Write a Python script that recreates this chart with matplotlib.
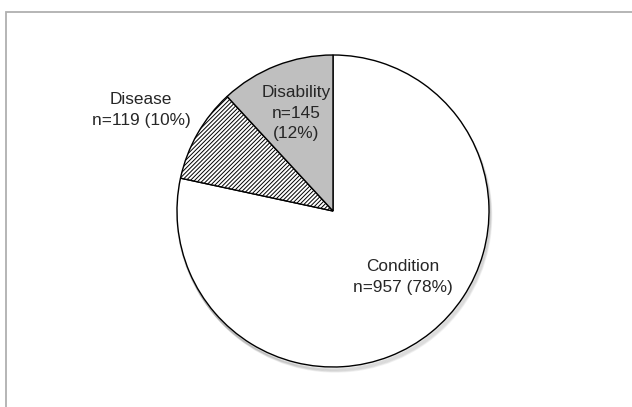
import numpy as np
import matplotlib
matplotlib.use("Agg")
import matplotlib.pyplot as plt
from matplotlib.patches import Rectangle, Circle

plt.rcParams['font.family'] = ['Liberation Sans', 'DejaVu Sans']
plt.rcParams['hatch.linewidth'] = 0.7

labels = ['Condition', 'Disease', 'Disability']
counts = [957, 119, 145]
percents = [78, 10, 12]
colors = ['white', 'white', '#bfbfbf']
hatches = [None, '////////', None]

W, H = 632, 407
cx, cy, r = 333, 211, 156   # pie centre / radius in pixels

fig = plt.figure(figsize=(W / 100, H / 100), dpi=100)
fig.patch.set_facecolor('white')

# grey chart frame
fig.add_artist(Rectangle((6 / W, -0.05), 1.1, (H - 12) / H + 0.05,
                         transform=fig.transFigure, fill=False,
                         ec='#b0b0b0', lw=1.3))

ax = fig.add_axes([(cx - r) / W, (H - cy - r) / H, 2 * r / W, 2 * r / H])

wedges, _ = ax.pie(counts, startangle=90, counterclock=False, radius=1.0,
                   colors=colors,
                   wedgeprops=dict(edgecolor='black', linewidth=1.0))
for w, h in zip(wedges, hatches):
    if h:
        w.set_hatch(h)
    w.set_zorder(2)

ax.set_xlim(-1, 1)
ax.set_ylim(-1, 1)
ax.axis('off')

# soft drop shadow below the pie
for k in range(6):
    ax.add_patch(Circle((0.003 * k, -0.010 - 0.004 * k), 1.0,
                        fc='none', ec='black', lw=1.5,
                        alpha=0.05, zorder=0, clip_on=False))

txt = ['{}\nn={} ({}%)'.format(l, c, p) for l, c, p in zip(labels, counts, percents)]
txt[2] = '{}\nn={}\n({}%)'.format(labels[2], counts[2], percents[2])
pos = [((403 - cx) / r, (cy - 277) / r),
       ((141 - cx) / r, (cy - 110) / r),
       ((296 - cx) / r, (cy - 113) / r)]
for t, (x, y) in zip(txt, pos):
    ax.text(x, y, t, ha='center', va='center', fontsize=12.4,
            color='#262626', linespacing=1.45, zorder=5, clip_on=False)

fig.savefig('out.png', dpi=100)
